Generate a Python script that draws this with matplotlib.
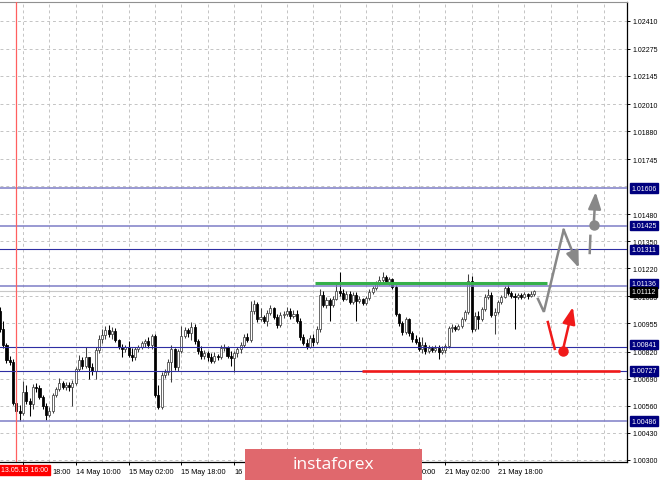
import numpy as np
import matplotlib
matplotlib.use('Agg')
import matplotlib.pyplot as plt
import matplotlib.transforms as mtransforms
from matplotlib.patches import Rectangle

plt.rcParams['font.family'] = ['Liberation Sans', 'DejaVu Sans']

# hourly bars, bar 0 = 13 May 18:00, first bar on screen is bar -7
first_bar = -7
first_open = 1.01015
closes = [1.00929, 1.00852, 1.00780, 1.00770, 1.00573, 1.00534, 1.00525, 1.00626, 1.00583, 1.00568,
          1.00650, 1.00645, 1.00602, 1.00558, 1.00515, 1.00534, 1.00611, 1.00640, 1.00669, 1.00650,
          1.00659, 1.00650, 1.00669, 1.00736, 1.00780, 1.00751, 1.00794, 1.00746, 1.00727, 1.00828,
          1.00880, 1.00900, 1.00924, 1.00905, 1.00919, 1.00876, 1.00842, 1.00832, 1.00842, 1.00803,
          1.00794, 1.00832, 1.00842, 1.00861, 1.00871, 1.00852, 1.00895, 1.00611, 1.00554, 1.00707,
          1.00722, 1.00770, 1.00832, 1.00746, 1.00823, 1.00895, 1.00924, 1.00909, 1.00938, 1.00871,
          1.00823, 1.00799, 1.00813, 1.00794, 1.00775, 1.00799, 1.00794, 1.00837, 1.00842, 1.00799,
          1.00789, 1.00813, 1.00832, 1.00852, 1.00890, 1.00876, 1.01015, 1.01049, 1.00977, 1.00986,
          1.00967, 1.01006, 1.01030, 1.00986, 1.00948, 1.00996, 1.01001, 1.01015, 1.00991, 1.01001,
          1.00967, 1.00890, 1.00861, 1.00842, 1.00885, 1.00866, 1.00929, 1.01092, 1.01044, 1.01068,
          1.01044, 1.01073, 1.01111, 1.01102, 1.01073, 1.01097, 1.01058, 1.01092, 1.01063, 1.01073,
          1.01053, 1.01078, 1.01106, 1.01126, 1.01150, 1.01164, 1.01179, 1.01155, 1.01169, 1.01130,
          1.01001, 1.00957, 1.00914, 1.00977, 1.00909, 1.00880, 1.00866, 1.00832, 1.00852, 1.00823,
          1.00837, 1.00828, 1.00837, 1.00818, 1.00828, 1.00847, 1.00933, 1.00938, 1.00929, 1.00943,
          1.00977, 1.01010, 1.01159, 1.00929, 1.00991, 1.00977, 1.01025, 1.01082, 1.01092, 1.00996,
          1.01010, 1.01058, 1.01082, 1.01126, 1.01102, 1.01087, 1.01082, 1.01092, 1.01082, 1.01097,
          1.01087, 1.01097, 1.01112]
highs = [1.01034, 1.00967, 1.00861, 1.00799, 1.00784, 1.00587, 1.00563, 1.00679, 1.00659, 1.00597,
         1.00664, 1.00669, 1.00659, 1.00611, 1.00573, 1.00554, 1.00621, 1.00650, 1.00693, 1.00679,
         1.00674, 1.00674, 1.00683, 1.00746, 1.00803, 1.00794, 1.00842, 1.00794, 1.00765, 1.00842,
         1.00900, 1.00929, 1.00943, 1.00948, 1.00938, 1.00933, 1.00880, 1.00856, 1.00852, 1.00871,
         1.00837, 1.00842, 1.00852, 1.00871, 1.00880, 1.00890, 1.00905, 1.00905, 1.00659, 1.00722,
         1.00736, 1.00784, 1.00852, 1.00837, 1.00832, 1.00943, 1.00938, 1.00933, 1.00962, 1.00953,
         1.00880, 1.00847, 1.00828, 1.00823, 1.00813, 1.00818, 1.00808, 1.00852, 1.00856, 1.00847,
         1.00823, 1.00823, 1.00842, 1.00866, 1.00905, 1.00909, 1.01063, 1.01068, 1.01058, 1.01030,
         1.00996, 1.01020, 1.01044, 1.01034, 1.01001, 1.01010, 1.01015, 1.01034, 1.01030, 1.01020,
         1.01020, 1.00981, 1.00905, 1.00880, 1.00900, 1.00905, 1.00943, 1.01121, 1.01111, 1.01082,
         1.01078, 1.01087, 1.01155, 1.01203, 1.01121, 1.01111, 1.01111, 1.01106, 1.01106, 1.01087,
         1.01078, 1.01087, 1.01121, 1.01135, 1.01159, 1.01183, 1.01203, 1.01188, 1.01179, 1.01174,
         1.01140, 1.01006, 1.00967, 1.00986, 1.00981, 1.00919, 1.00900, 1.00890, 1.00890, 1.00866,
         1.00852, 1.00847, 1.00852, 1.00852, 1.00847, 1.00856, 1.00943, 1.00953, 1.00948, 1.00953,
         1.00986, 1.01020, 1.01193, 1.01183, 1.01010, 1.01015, 1.01034, 1.01097, 1.01121, 1.01106,
         1.01030, 1.01068, 1.01092, 1.01135, 1.01140, 1.01111, 1.01102, 1.01102, 1.01102, 1.01106,
         1.01102, 1.01111, 1.01116]
lows = [1.00914, 1.00837, 1.00765, 1.00756, 1.00563, 1.00520, 1.00486, 1.00515, 1.00568, 1.00510,
        1.00544, 1.00626, 1.00592, 1.00544, 1.00491, 1.00506, 1.00525, 1.00602, 1.00631, 1.00640,
        1.00635, 1.00631, 1.00558, 1.00659, 1.00727, 1.00736, 1.00741, 1.00688, 1.00707, 1.00688,
        1.00813, 1.00861, 1.00880, 1.00890, 1.00880, 1.00866, 1.00832, 1.00794, 1.00818, 1.00794,
        1.00775, 1.00780, 1.00818, 1.00832, 1.00842, 1.00837, 1.00832, 1.00602, 1.00544, 1.00544,
        1.00693, 1.00707, 1.00674, 1.00732, 1.00727, 1.00813, 1.00885, 1.00890, 1.00876, 1.00856,
        1.00808, 1.00784, 1.00784, 1.00775, 1.00765, 1.00765, 1.00780, 1.00784, 1.00823, 1.00789,
        1.00751, 1.00722, 1.00794, 1.00813, 1.00842, 1.00866, 1.00866, 1.01001, 1.00962, 1.00967,
        1.00957, 1.00943, 1.00996, 1.00977, 1.00933, 1.00938, 1.00981, 1.00991, 1.00977, 1.00981,
        1.00957, 1.00876, 1.00852, 1.00832, 1.00837, 1.00847, 1.00856, 1.00914, 1.01034, 1.01030,
        1.00967, 1.01034, 1.01068, 1.01087, 1.01063, 1.01068, 1.01049, 1.01049, 1.00967, 1.01053,
        1.01044, 1.01044, 1.01068, 1.01097, 1.01116, 1.01140, 1.01155, 1.01145, 1.01140, 1.01121,
        1.00991, 1.00943, 1.00900, 1.00905, 1.00895, 1.00866, 1.00856, 1.00823, 1.00813, 1.00808,
        1.00813, 1.00818, 1.00818, 1.00784, 1.00808, 1.00813, 1.00837, 1.00914, 1.00919, 1.00924,
        1.00933, 1.00967, 1.01001, 1.00914, 1.00919, 1.00929, 1.00967, 1.01015, 1.01073, 1.00986,
        1.00905, 1.01001, 1.01049, 1.01078, 1.01092, 1.01078, 1.00929, 1.01073, 1.01073, 1.01078,
        1.01073, 1.01082, 1.01087]

# time scale: labels every 16 bars; parts hidden by the overlays are left out
time_ticks = [0, 16, 32, 48, 64, 80, 96, 112, 128, 144]
time_labels = ['', '14 May 10:00', '15 May 02:00', '15 May 18:00', '16',
               '', '', '', '21 May 02:00', '21 May 18:00']
label_parts = [(8.8, '18:00'), (120.8, '0:00')]
price_ticks = [1.02410, 1.02275, 1.02145, 1.02010, 1.01880, 1.01745, 1.01615, 1.01480, 1.01350,
               1.01220, 1.01085, 1.00955, 1.00820, 1.00690, 1.00560, 1.00430, 1.00300]
hidden_ticks = [1.01615]

levels_main = [1.01606, 1.01425, 1.01136, 1.00486]
levels_thin = [1.01311, 1.00841, 1.00727]
current_price = 1.01112
marker_bar = -2
marker_label = '13.05.13 16:00'

resist_price, resist_from, resist_to = 1.01150, 88.5, 158.8
support_price, support_from, support_to = 1.00727, 102.7, 181.0

# forecast scenarios (bar, price)
up_path = [(156.1, 1.01073), (157.9, 1.01011), (163.9, 1.01405), (168.5, 1.01222)]
up_dash = [(171.8, 1.01294), (172.0, 1.01376)]
up_dot = (173.0, 1.01429)
up_tip = (173.6, 1.01587)
down_dash = [(159.1, 1.00962), (161.2, 1.00833)]
down_dot = (163.6, 1.00823)
down_tip = (166.7, 1.01034)

fig = plt.figure(figsize=(6.65, 4.81), dpi=100)
ax = fig.add_axes([0, 18 / 481, 627 / 665, 460.5 / 481])
ax.set_xlim(-6.97, 183.1)
ax.set_ylim(1.00289, 1.02503)

# grid
for p in price_ticks:
    ax.axhline(p, color='#c4c4c4', lw=0.7, ls=(0, (3, 3)), zorder=0.5)
for b in range(0, 184, 8):
    ax.axvline(b, color='#c4c4c4', lw=0.7, ls=(0, (3, 3)), zorder=0.5)

# candles
bars = np.arange(first_bar, first_bar + len(closes))
c = np.array(closes)
h = np.array(highs)
l = np.array(lows)
o = np.concatenate([[first_open], c[:-1]])
up = c >= o
dn = ~up
ax.vlines(bars[up], l[up], h[up], color='#404040', lw=0.75, zorder=3)
ax.vlines(bars[dn], l[dn], h[dn], color='black', lw=0.75, zorder=3)
ax.bar(bars[up], (c - o)[up], bottom=o[up], width=0.62, color='white',
       edgecolor='#404040', linewidth=0.55, zorder=3.5)
ax.bar(bars[dn], (o - c)[dn], bottom=c[dn], width=0.62, color='black',
       edgecolor='black', linewidth=0.55, zorder=3.5)

# horizontal levels
for p in levels_main:
    ax.axhline(p, color='#7d7dc6', lw=1.1, zorder=4)
for p in levels_thin:
    ax.axhline(p, color='#2e2ea3', lw=0.8, zorder=4)
ax.axhline(current_price, color='#c8c8c8', lw=0.8, zorder=2)
ax.axvline(marker_bar, color='#ff6060', lw=0.9, zorder=4)

ax.plot([resist_from, resist_to], [resist_price, resist_price], color='#35b04a', lw=2.2,
        solid_capstyle='butt', zorder=5)
ax.plot([support_from, support_to], [support_price, support_price], color='#f01a1a', lw=1.9,
        solid_capstyle='butt', zorder=5)

# scenario arrows
grey = '#888888'
red = '#f01a1a'
head = '-|>,head_length=1.0,head_width=0.38'
xs, ys = zip(*up_path[:3])
ax.plot(xs, ys, color=grey, lw=1.8, zorder=6, solid_joinstyle='miter')
ax.annotate('', xy=up_path[3], xytext=up_path[2],
            arrowprops=dict(arrowstyle=head, color=grey, lw=1.8, mutation_scale=10,
                            shrinkA=0, shrinkB=0), zorder=6)
xs, ys = zip(*up_dash)
ax.plot(xs, ys, color=grey, lw=1.8, zorder=6)
ax.plot(*up_dot, 'o', color=grey, ms=6.5, zorder=6)
ax.annotate('', xy=up_tip, xytext=up_dot,
            arrowprops=dict(arrowstyle=head, color=grey, lw=1.8, mutation_scale=10,
                            shrinkA=0, shrinkB=0), zorder=6)
xs, ys = zip(*down_dash)
ax.plot(xs, ys, color=red, lw=1.8, zorder=6)
ax.plot(*down_dot, 'o', color=red, ms=6.5, zorder=6)
ax.annotate('', xy=down_tip, xytext=down_dot,
            arrowprops=dict(arrowstyle=head, color=red, lw=1.8, mutation_scale=10,
                            shrinkA=0, shrinkB=0), zorder=6)

# axes styling
ax.spines['left'].set_visible(False)
ax.spines['top'].set_color('#909090')
ax.spines['top'].set_linewidth(0.8)
ax.spines['right'].set_linewidth(0.9)
ax.spines['bottom'].set_linewidth(0.9)
ax.yaxis.tick_right()
shown = [p for p in price_ticks if p not in hidden_ticks]
ax.set_yticks(shown, [f'{p:.5f}' for p in shown])
ax.set_xticks(time_ticks, time_labels)
ax.tick_params(axis='y', direction='out', length=2.5, width=0.7, pad=1.5, labelsize=5)
ax.tick_params(axis='x', direction='out', length=2.5, width=0.7, pad=1.5, labelsize=5.3)
for t in ax.get_xticklabels():
    t.set_ha('left')
xlab = mtransforms.offset_copy(ax.get_xaxis_transform(), fig=fig, y=-4.0, units='points')
for b, s in label_parts:
    ax.text(b, 0, s, transform=xlab, ha='left', va='top', fontsize=5.3, clip_on=False)

# price boxes on the right scale
trans = mtransforms.blended_transform_factory(ax.transAxes, ax.transData)
box_shift = {1.01136: 1.5, 1.00841: 2.0}
for p in levels_main + levels_thin:
    tr = mtransforms.offset_copy(trans, fig=fig, y=box_shift.get(p, 0), units='points')
    ax.text(1.0075, p, f'{p:.5f}', transform=tr, ha='left', va='center', fontsize=5,
            color='white', clip_on=False, zorder=20,
            bbox=dict(boxstyle='square,pad=0.18', fc='#00007f', ec='#00007f'))
tr = mtransforms.offset_copy(trans, fig=fig, y=-0.8, units='points')
ax.text(1.0075, current_price, f'{current_price:.5f}', transform=tr, ha='left', va='center',
        fontsize=5, color='white', clip_on=False, zorder=21,
        bbox=dict(boxstyle='square,pad=0.18', fc='black', ec='black'))

# date of the marker line and watermark
fig.text(1 / 665, 10 / 481, marker_label, ha='left', va='center', fontsize=5, color='white',
         zorder=20, bbox=dict(boxstyle='square,pad=0.25', fc='#ff0000', ec='#ff0000'))
fig.patches.append(Rectangle((245 / 665, 0), 177 / 665, 31 / 481, transform=fig.transFigure,
                             fc='#e0686d', ec='none', zorder=15))
fig.text(333.5 / 665, 16 / 481, 'instaforex', ha='center', va='center', fontsize=12.5,
         family=['Open Sans', 'DejaVu Sans'], color='white', zorder=16)

fig.savefig('out.png', dpi=100)
